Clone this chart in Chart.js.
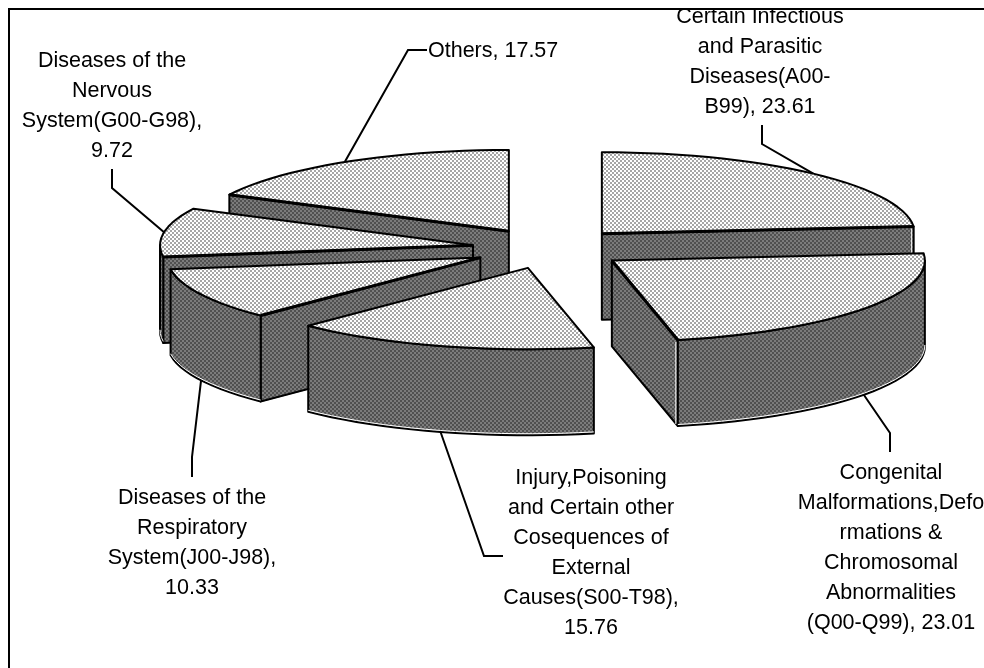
<!DOCTYPE html>
<html lang="en">
<head>
    <meta charset="UTF-8">
    <title>Exploded 3D pie</title>
    <script src="https://cdn.jsdelivr.net/npm/chart.js"></script>
    <style>
        html, body { margin: 0; padding: 0; background: #fff; }
        canvas { display: block; }
    </style>
</head>
<body>
    <canvas id="pieChart" width="984" height="668"></canvas>
    <script>
        var categories = [
            'Certain Infectious and Parasitic Diseases(A00-B99)',
            'Congenital Malformations,Deformations & Chromosomal Abnormalities (Q00-Q99)',
            'Injury,Poisoning and Certain other Cosequences of External Causes(S00-T98)',
            'Diseases of the Respiratory System(J00-J98)',
            'Diseases of the Nervous System(G00-G98)',
            'Others'
        ];
        var values = [23.61, 23.01, 15.76, 10.33, 9.72, 17.57];
        var labelLines = [
            ['Certain Infectious', 'and Parasitic', 'Diseases(A00-', 'B99), 23.61'],
            ['Congenital', 'Malformations,Defo', 'rmations &', 'Chromosomal', 'Abnormalities', '(Q00-Q99), 23.01'],
            ['Injury,Poisoning', 'and Certain other', 'Cosequences of', 'External', 'Causes(S00-T98),', '15.76'],
            ['Diseases of the', 'Respiratory', 'System(J00-J98),', '10.33'],
            ['Diseases of the', 'Nervous', 'System(G00-G98),', '9.72'],
            ['Others, 17.57']
        ];

        // where each label sits, and the bends of its leader line
        var labelBoxes = [
            { x: 760, y: 17, align: 'center', bends: [[762, 144], [762, 125]] },
            { x: 891, y: 473, align: 'center', bends: [[890, 433], [890, 452]] },
            { x: 591, y: 478, align: 'center', bends: [[484, 556], [503, 556]] },
            { x: 192, y: 498, align: 'center', bends: [[192, 457], [192, 477]] },
            { x: 112, y: 61, align: 'center', bends: [[112, 188], [112, 169]] },
            { x: 428, y: 51, align: 'left', bends: [[408, 50], [427, 50]] }
        ];

        var tilt = 0.26; // squash of the pie circle into an ellipse
        var depth = 86; // height of the extruded slices
        var lineGap = 30;

        function makeTile(c1, c2) {
            var tile = document.createElement('canvas');
            tile.width = 4;
            tile.height = 4;
            var t = tile.getContext('2d');
            t.fillStyle = c1;
            t.fillRect(0, 0, 4, 4);
            t.fillStyle = c2;
            t.fillRect(0, 0, 2, 2);
            t.fillRect(2, 2, 2, 2);
            return tile;
        }

        var ctx = document.getElementById('pieChart').getContext('2d');
        var topFill = ctx.createPattern(makeTile('#ffffff', '#a6a6a6'), 'repeat');
        var wallFill = ctx.createPattern(makeTile('#7c7c7c', '#505050'), 'repeat');

        // point on the rim of a slice, in the squashed picture
        function rimPoint(arc, angle, drop) {
            var half = (arc.startAngle + arc.endAngle) / 2;
            var off = arc.options.offset / 4;
            return [
                arc.x + Math.cos(half) * off + Math.cos(angle) * arc.outerRadius,
                arc.y + (Math.sin(half) * off + Math.sin(angle) * arc.outerRadius) * tilt + drop
            ];
        }
        function apexPoint(arc, drop) {
            var half = (arc.startAngle + arc.endAngle) / 2;
            var off = arc.options.offset / 4;
            return [arc.x + Math.cos(half) * off, arc.y + Math.sin(half) * off * tilt + drop];
        }
        function rimPath(arc, from, to, drop) {
            var pts = [];
            var n = Math.max(2, Math.ceil((to - from) / 0.05));
            for (var i = 0; i <= n; i++) {
                pts.push(rimPoint(arc, from + (to - from) * i / n, drop));
            }
            return pts;
        }
        function drawPoly(c, pts, fill, close) {
            c.beginPath();
            pts.forEach(function(p, i) {
                if (i === 0) { c.moveTo(p[0], p[1]); } else { c.lineTo(p[0], p[1]); }
            });
            if (close) { c.closePath(); }
            if (fill) {
                c.fillStyle = fill;
                c.fill();
            }
            c.stroke();
        }
        function highlight(c, pts) {
            c.save();
            c.strokeStyle = '#fff';
            c.lineWidth = 1;
            drawPoly(c, pts, null, false);
            c.restore();
        }
        function heavyEdge(c, pts) {
            c.save();
            c.lineWidth = 3;
            drawPoly(c, pts, null, false);
            c.restore();
        }

        function drawSlice(c, arc) {
            var a1 = arc.startAngle, a2 = arc.endAngle;
            var apex = apexPoint(arc, 0), apexLow = apexPoint(arc, depth);
            var p1 = rimPoint(arc, a1, 0), p2 = rimPoint(arc, a2, 0);
            var q1 = rimPoint(arc, a1, depth), q2 = rimPoint(arc, a2, depth);
            var wallStart = Math.cos(a1) < -0.01, wallEnd = Math.cos(a2) > 0.01;
            c.strokeStyle = '#000';
            c.lineWidth = 2;
            c.lineJoin = 'round';

            // radial wall seen from the front: the one on the near side of the slice
            if (wallStart) {
                drawPoly(c, [apex, p1, q1, apexLow], wallFill, true);
                highlight(c, [[q1[0], q1[1] + 2], [apexLow[0], apexLow[1] + 2]]);
            }
            if (wallEnd) {
                drawPoly(c, [apex, p2, q2, apexLow], wallFill, true);
            }

            // outer wall, only the part that faces the viewer (0 to PI in canvas angles)
            var from = a1, to = Math.min(a2, Math.PI);
            if (a1 < 0) { from = 0; }
            if (to > from) {
                var upper = rimPath(arc, from, to, 0);
                var lower = rimPath(arc, from, to, depth);
                drawPoly(c, upper.concat(lower.reverse()), wallFill, true);
                // white highlight just inside the bottom edge
                highlight(c, rimPath(arc, from, to, depth - 1.5));
            }
            if (wallEnd) {
                highlight(c, [[p2[0] - 2, p2[1] + 2], [q2[0] - 2, q2[1] - 2]]);
            }

            // top face
            var face = [apex].concat(rimPath(arc, a1, a2, 0));
            drawPoly(c, face, arc.options.backgroundColor, true);
            if (wallStart) { heavyEdge(c, [apex, p1]); }
            if (wallEnd) { heavyEdge(c, [apex, p2]); }
        }

        var pie3d = {
            id: 'pie3d',
            beforeDatasetsDraw: function(chart) {
                var c = chart.ctx;
                var arcs = chart.getDatasetMeta(0).data.slice();
                // back slices first
                arcs.sort(function(a, b) {
                    return Math.sin((a.startAngle + a.endAngle) / 2) - Math.sin((b.startAngle + b.endAngle) / 2);
                });
                c.save();
                arcs.forEach(function(arc) { drawSlice(c, arc); });
                c.restore();
                return false;
            },
            afterDraw: function(chart) {
                var c = chart.ctx;
                var arcs = chart.getDatasetMeta(0).data;
                c.save();
                c.strokeStyle = '#000';
                c.lineWidth = 2;
                labelBoxes.forEach(function(box, i) {
                    var arc = arcs[i];
                    var mid = (arc.startAngle + arc.endAngle) / 2;
                    var start = rimPoint(arc, mid, Math.sin(mid) > 0 ? depth : 0);
                    drawPoly(c, [start].concat(box.bends), null, false);

                    c.fillStyle = '#000';
                    c.font = '21.5px "Liberation Sans", Arial, sans-serif';
                    c.textAlign = box.align;
                    c.textBaseline = 'middle';
                    labelLines[i].forEach(function(line, j) {
                        c.fillText(line, box.x, box.y + j * lineGap);
                    });
                });
                // frame: only top and left show in the picture
                c.fillStyle = '#fff';
                c.fillRect(0, 0, 984, 8);
                c.fillStyle = '#000';
                c.fillRect(8, 8, 976, 2);
                c.fillRect(8, 8, 2, 660);
                c.restore();
            }
        };

        var pieChart = new Chart(ctx, {
            type: 'pie',
            data: {
                labels: categories,
                datasets: [{
                    data: values,
                    backgroundColor: topFill,
                    borderColor: '#000',
                    borderWidth: 2,
                    offset: 310 // the arc moves by offset / 4
                }]
            },
            options: {
                responsive: false,
                animation: false,
                radius: 313,
                layout: { padding: { left: 115, bottom: 171 } },
                plugins: {
                    legend: { display: false },
                    tooltip: { enabled: false }
                }
            },
            plugins: [pie3d]
        });
    </script>
</body>
</html>
